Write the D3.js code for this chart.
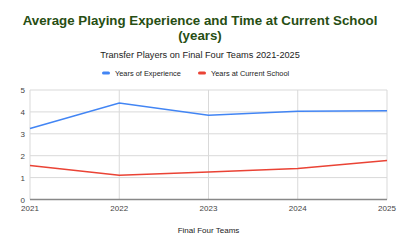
<!DOCTYPE html>
<html>
<head>
<meta charset="utf-8">
<script src="https://cdn.jsdelivr.net/npm/d3@7"></script>
<style>
  body { margin: 0; background: #fff; }
  svg { font-family: "Liberation Sans", Arial, sans-serif; display: block; }
</style>
</head>
<body>
<script>
var width = 400,
    height = 247;

// chart data
var years = ["2021", "2022", "2023", "2024", "2025"];
var experience = [3.24, 4.41, 3.85, 4.03, 4.05];
var atSchool = [1.55, 1.11, 1.26, 1.42, 1.78];
var yTicks = [0, 1, 2, 3, 4, 5];
var seriesNames = ["Years of Experience", "Years at Current School"];
var seriesColors = ["#4285f4", "#ea4335"];

var margin = {top: 90, right: 13, bottom: 47.5, left: 30};

var svg = d3.select("body").append("svg")
    .attr("width", width)
    .attr("height", height);

var x = d3.scalePoint()
    .domain(years)
    .range([margin.left, width - margin.right]);

var y = d3.scaleLinear()
    .domain([0, 5])
    .range([height - margin.bottom, margin.top]);

// title
svg.append("text")
    .attr("x", 200).attr("y", 25)
    .attr("text-anchor", "middle")
    .style("font-size", "13.3px").style("font-weight", "bold")
    .style("fill", "#274e13")
    .text("Average Playing Experience and Time at Current School");
svg.append("text")
    .attr("x", 200).attr("y", 40)
    .attr("text-anchor", "middle")
    .style("font-size", "13.3px").style("font-weight", "bold")
    .style("fill", "#274e13")
    .text("(years)");

svg.append("text")
    .attr("x", 200).attr("y", 57.5)
    .attr("text-anchor", "middle")
    .style("font-size", "9.2px")
    .style("fill", "#222")
    .text("Transfer Players on Final Four Teams 2021-2025");

// legend
var legendX = [102, 198];
seriesNames.forEach(function(name, i) {
  var g = svg.append("g").attr("transform", "translate(" + legendX[i] + ",73)");
  g.append("rect").attr("x", 0).attr("y", -1.5).attr("width", 8).attr("height", 3)
      .attr("rx", 1.5).attr("fill", seriesColors[i]);
  g.append("text").attr("x", 13).attr("y", 2.5)
      .style("font-size", "7.4px").style("fill", "#222")
      .text(name);
});

// grid
svg.append("g").selectAll("line")
    .data(yTicks.slice(1))
  .enter().append("line")
    .attr("x1", margin.left).attr("x2", width - margin.right)
    .attr("y1", function(d) { return y(d); }).attr("y2", function(d) { return y(d); })
    .attr("stroke", "#d9d9d9").attr("stroke-width", 1);

svg.append("g").selectAll("line")
    .data(years)
  .enter().append("line")
    .attr("x1", function(d) { return x(d); }).attr("x2", function(d) { return x(d); })
    .attr("y1", y(0)).attr("y2", y(5))
    .attr("stroke", "#d9d9d9").attr("stroke-width", 1);

// baseline
svg.append("line")
    .attr("x1", margin.left).attr("x2", width - margin.right)
    .attr("y1", y(0)).attr("y2", y(0))
    .attr("stroke", "#888").attr("stroke-width", 1.3);

// y labels
svg.append("g").selectAll("text")
    .data(yTicks)
  .enter().append("text")
    .attr("x", 25).attr("y", function(d) { return y(d) + 3; })
    .attr("text-anchor", "end")
    .style("font-size", "8px").style("fill", "#444")
    .text(function(d) { return d; });

// x labels
svg.append("g").selectAll("text")
    .data(years)
  .enter().append("text")
    .attr("x", function(d) { return x(d); })
    .attr("y", 210.5)
    .attr("text-anchor", "middle")
    .style("font-size", "8px").style("fill", "#444")
    .text(function(d) { return d; });

svg.append("text")
    .attr("x", (margin.left + width - margin.right) / 2).attr("y", 232.5)
    .attr("text-anchor", "middle")
    .style("font-size", "8px").style("fill", "#222")
    .text("Final Four Teams");

// lines
var line = d3.line()
    .x(function(d, i) { return x(years[i]); })
    .y(function(d) { return y(d); });

[experience, atSchool].forEach(function(s, i) {
  svg.append("path")
      .datum(s)
      .attr("d", line)
      .attr("fill", "none")
      .attr("stroke", seriesColors[i])
      .attr("stroke-width", 1.5);
});
</script>
</body>
</html>
